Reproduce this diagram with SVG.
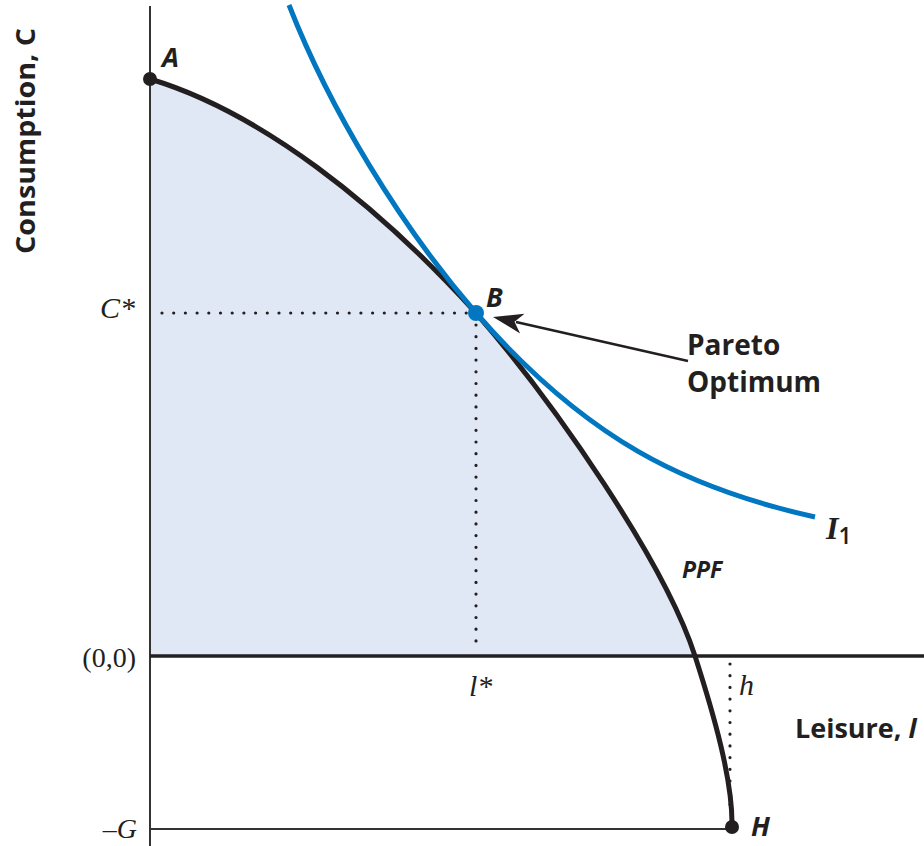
<svg xmlns="http://www.w3.org/2000/svg" width="924" height="846" viewBox="0 0 924 846">
<style>
.sans{font-family:"Open Sans","Liberation Sans",sans-serif;font-weight:700;fill:#231f20}
.serif{font-family:"Liberation Serif","DejaVu Serif",serif;fill:#231f20}
.it{font-style:italic}
.dot{stroke:#231f20;stroke-width:3.2;stroke-linecap:round;stroke-dasharray:0 11.7;fill:none}
</style>
<rect width="924" height="846" fill="#ffffff"/>
<g id="region">
<path d="M150,79 C260,112 376,203 476,313 C556,405 665,563 695,656 L150,656 Z" fill="#e1e8f5"/>
</g>
<g id="axes">
<line x1="150" y1="6" x2="150" y2="846" stroke="#333" stroke-width="2"/>
<line x1="150" y1="656" x2="924" y2="656" stroke="#231f20" stroke-width="3.5"/>
<line x1="150" y1="829" x2="732" y2="829" stroke="#333" stroke-width="2"/>
</g>
<g id="guides">
<line class="dot" x1="162" y1="313" x2="470" y2="313"/>
<line class="dot" x1="476" y1="325" x2="476" y2="650"/>
<line class="dot" x1="730" y1="664" x2="730" y2="812"/>
</g>
<g id="ppf">
<path d="M150,79 C260,112 376,203 476,313 C556,405 665,563 695,656 C713,712 733,780 732,827" fill="none" stroke="#231f20" stroke-width="5"/>
</g>
<g id="indifference">
<path d="M289,5 C330,110 400,225 476,313 C586,439 685,488 815,517" fill="none" stroke="#0077c0" stroke-width="5"/>
</g>
<g id="connectors">
<line x1="688" y1="361" x2="516" y2="322" stroke="#231f20" stroke-width="2.5"/>
<polygon points="493,317 524.5,313.8 514.5,321.8 520.1,333.4" fill="#231f20"/>
</g>
<g id="pointA"><circle cx="150" cy="79" r="7" fill="#231f20"/><text class="sans it" x="162" y="67" font-size="27">A</text></g>
<g id="pointB"><circle cx="476" cy="313" r="8" fill="#0077c0"/><text class="sans it" x="486" y="307" font-size="27">B</text></g>
<g id="pointH"><circle cx="732" cy="827" r="7" fill="#231f20"/><text class="sans it" x="751" y="836" font-size="27">H</text></g>
<g id="labels">
<text class="sans" transform="translate(35,254) rotate(-90)" font-size="27" textLength="226" lengthAdjust="spacingAndGlyphs">Consumption, C</text>
<text class="sans" x="795" y="738" font-size="27">Leisure, <tspan class="it">l</tspan></text>
<text class="sans" x="687" y="355" font-size="28">Pareto</text>
<text class="sans" x="687" y="392" font-size="28">Optimum</text>
<text class="sans it" x="682" y="578" font-size="23">PPF</text>
<text class="serif it" x="826" y="539" font-size="32" style="font-weight:700">I<tspan class="sans" style="font-style:normal;font-weight:600" font-size="23" dy="5">1</tspan></text>
<text class="serif it" x="100" y="318" font-size="30">C*</text>
<text class="serif" x="136" y="667" font-size="28" text-anchor="end">(0,0)</text>
<text class="serif it" x="137" y="838" font-size="28" text-anchor="end">–G</text>
<text class="serif it" x="469" y="696" font-size="30">l*</text>
<text class="serif it" x="739" y="695" font-size="30">h</text>
</g>
</svg>
